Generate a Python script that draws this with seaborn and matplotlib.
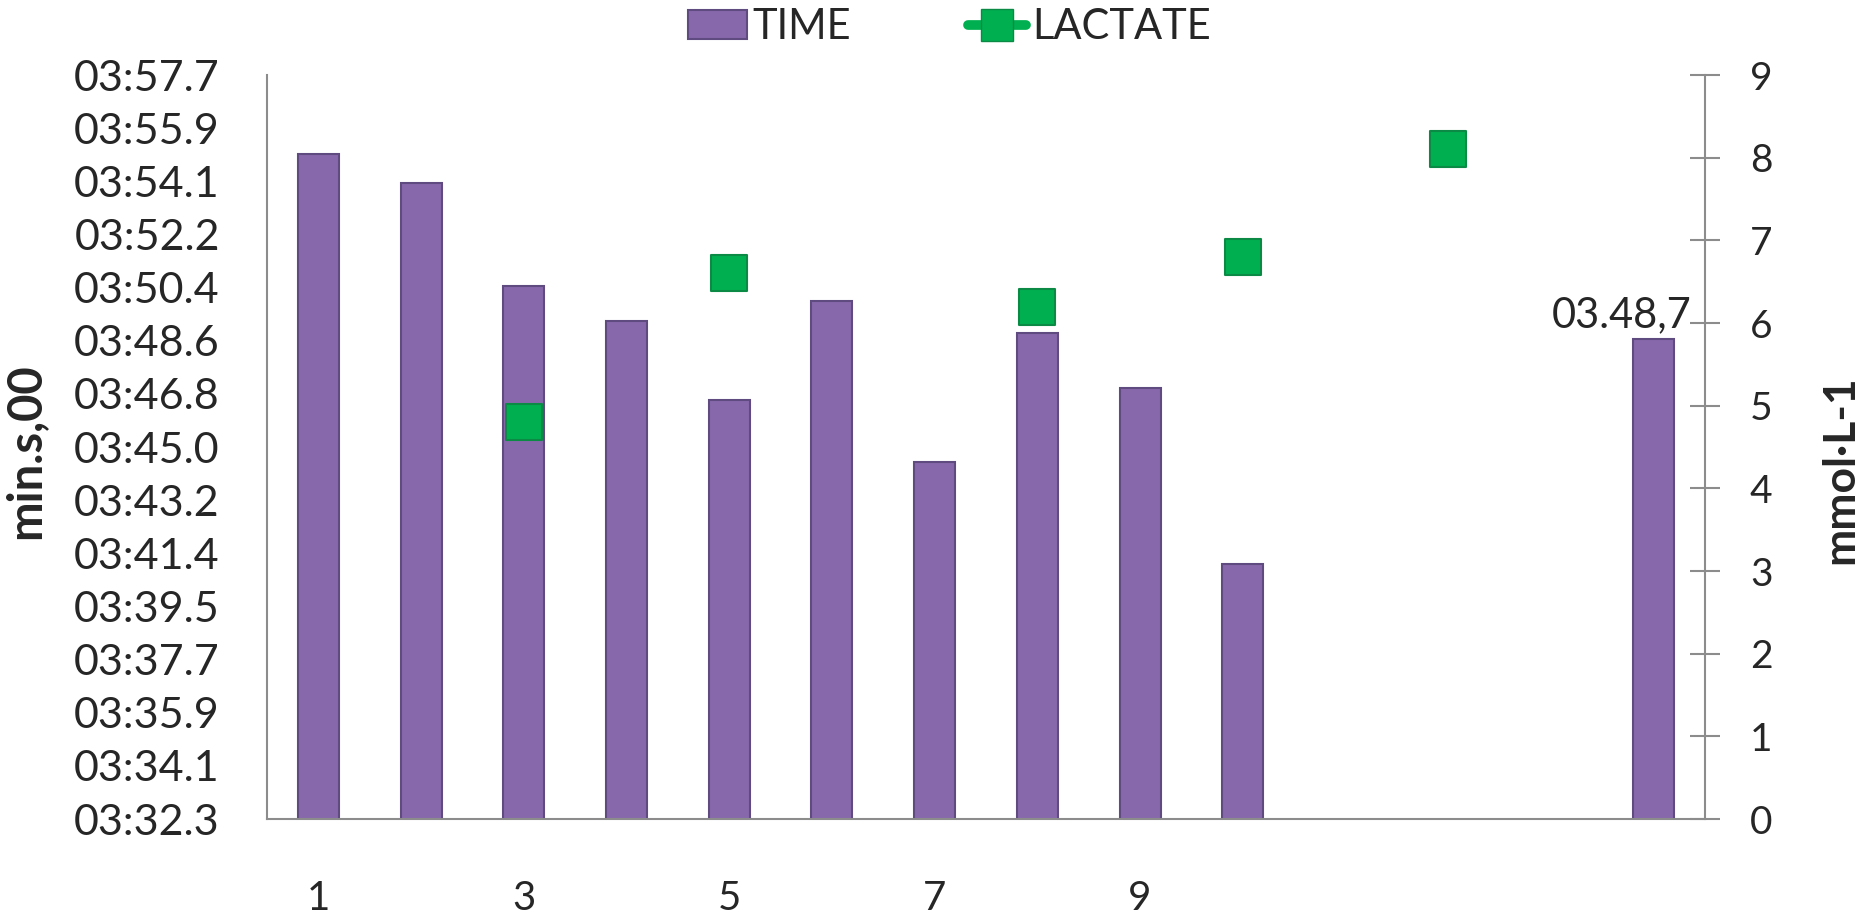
import numpy as np
import pandas as pd
import matplotlib.pyplot as plt
import seaborn as sns
from matplotlib.patches import Patch
from matplotlib.lines import Line2D

# Sessions on the category axis (only odd ones up to 9 carry a label)
sessions = list(range(1, 15))
session_labels = ["1", "", "3", "", "5", "", "7", "", "9", "", "", "", "", ""]

# TIME series, seconds (03:55.0 -> 235.0)
time_sessions = [1, 2, 3, 4, 5, 6, 7, 8, 9, 10, 14]
time_sec = [235.0, 234.0, 230.5, 229.3, 226.6, 230.0, 224.5, 228.9, 227.0, 221.0, 228.7]
last_label = "03.48,7"

# LACTATE series, mmol/L
lactate_sessions = [3, 5, 8, 10, 12]
lactate_mmol = [4.8, 6.6, 6.2, 6.8, 8.1]

# axis scales
time_min, time_max = 212.3, 237.7
time_ticklabels = ["03:32.3", "03:34.1", "03:35.9", "03:37.7", "03:39.5",
                   "03:41.4", "03:43.2", "03:45.0", "03:46.8", "03:48.6",
                   "03:50.4", "03:52.2", "03:54.1", "03:55.9", "03:57.7"]
lactate_ticks = list(range(0, 10))

PURPLE = "#8769AB"
PURPLE_EDGE = "#5F4B80"
GREEN = "#00B050"
GREEN_EDGE = "#0A8A45"
AXIS_GREY = "#8C8C8C"

sns.set_theme(style="white")
plt.rcParams['font.family'] = ['Lato', 'DejaVu Sans']

fig = plt.figure(figsize=(18.66, 9.14), dpi=100)
ax = fig.add_axes([0.1431, 0.1039, 0.7706, 0.8140])

df_time = pd.DataFrame({'session': time_sessions, 'time': time_sec})
sns.barplot(data=df_time, x='session', y='time', order=sessions, ax=ax,
            width=0.4, color=PURPLE, edgecolor=PURPLE_EDGE, linewidth=1.5,
            saturation=1)

ax.set_ylim(time_min, time_max)
ax.set_yticks(np.linspace(time_min, time_max, len(time_ticklabels)))
ax.set_yticklabels(time_ticklabels, fontsize=31)
ax.set_xlim(-0.5, len(sessions) - 0.5)
ax.set_xticks(range(len(sessions)))
ax.set_xticklabels(session_labels, fontsize=29)
ax.tick_params(axis='y', length=0, pad=34)
ax.tick_params(axis='x', length=0, pad=44)
ax.set_xlabel("")
ax.set_ylabel("min.s,00", fontsize=34, fontweight='bold')
ax.yaxis.set_label_coords(-0.153, 0.495)

for side in ['top', 'right']:
    ax.spines[side].set_visible(False)
for side in ['left', 'bottom']:
    ax.spines[side].set_color(AXIS_GREY)
    ax.spines[side].set_linewidth(1.5)

# value label on the last bar
last_pos = sessions.index(time_sessions[-1])
ax.annotate(last_label, xy=(last_pos, time_sec[-1]), xytext=(-23, 8),
            textcoords='offset points', ha='center', va='baseline', fontsize=30)

# lactate on secondary axis
ax2 = ax.twinx()
df_lac = pd.DataFrame({'pos': [sessions.index(s) for s in lactate_sessions],
                       'lactate': lactate_mmol})
sns.scatterplot(data=df_lac, x='pos', y='lactate', ax=ax2, marker='s', s=700,
                color=GREEN, edgecolor=GREEN_EDGE, linewidth=1.5, zorder=5)
ax2.set_xlim(-0.5, len(sessions) - 0.5)
ax2.set_ylim(0, 9)
ax2.set_yticks(lactate_ticks)
ax2.set_yticklabels([str(t) for t in lactate_ticks], fontsize=28)
ax2.tick_params(axis='y', direction='inout', length=21.6, width=1.5,
                color=AXIS_GREY, pad=21.6, right=True)
ax2.set_ylabel("mmol·L-1", fontsize=32, fontweight='bold')
ax2.yaxis.set_label_coords(1.080, 0.47)
for side in ['top', 'left', 'bottom']:
    ax2.spines[side].set_visible(False)
ax2.spines['right'].set_color(AXIS_GREY)
ax2.spines['right'].set_linewidth(1.5)
ax2.grid(False)
ax.grid(False)

handles = [
    Patch(facecolor=PURPLE, edgecolor=PURPLE_EDGE, linewidth=1.5),
    Line2D([0], [0], color=GREEN, lw=7, solid_capstyle='round', marker='s',
           markersize=23, markerfacecolor=GREEN, markeredgecolor=GREEN_EDGE),
]
fig.legend(handles, ["TIME", "LACTATE"], loc='center',
           bbox_to_anchor=(0.509, 0.970), ncol=2, frameon=False, fontsize=30,
           handlelength=1.4, handletextpad=0.15, columnspacing=2.8)

fig.savefig("out.png", dpi=100)
